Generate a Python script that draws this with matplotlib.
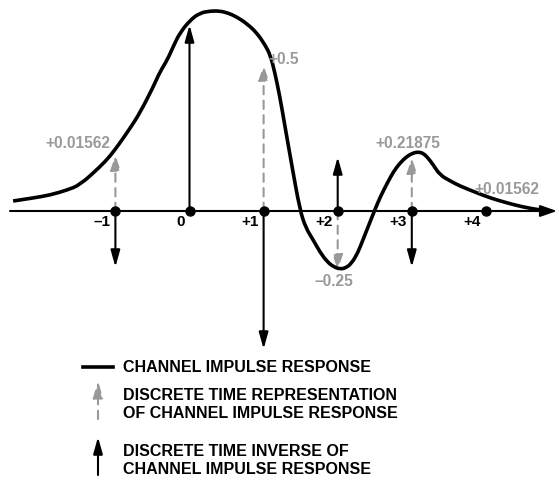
import numpy as np
import matplotlib
matplotlib.use('Agg')
import matplotlib.pyplot as plt
from matplotlib.path import Path
from matplotlib.patches import PathPatch

plt.rcParams['font.family'] = ['Liberation Sans', 'DejaVu Sans']
plt.rcParams['font.weight'] = 'bold'

# Channel impulse response (schematic), sample index vs amplitude
curve_t = [-2.38, -2.11, -1.88, -1.65, -1.48, -1.21, -1.07, -0.94, -0.80, -0.67,
           -0.49, -0.40, -0.30, -0.21, -0.13, 0.01, 0.14, 0.28, 0.41, 0.52,
           0.64, 0.78, 0.91, 1.02, 1.09, 1.15, 1.22, 1.29, 1.38, 1.49,
           1.57, 1.67, 1.76, 1.86, 1.95, 2.03, 2.11, 2.19, 2.27, 2.34,
           2.42, 2.50, 2.58, 2.67, 2.75, 2.84, 2.94, 3.02, 3.08, 3.15,
           3.22, 3.29, 3.38, 3.52, 3.65, 3.85, 4.06, 4.29, 4.50, 4.73, 4.87]
curve_y = [0.050, 0.065, 0.080, 0.105, 0.130, 0.220, 0.275, 0.340, 0.415, 0.490,
           0.620, 0.695, 0.755, 0.830, 0.890, 0.955, 0.990, 1.000, 1.000, 0.990,
           0.970, 0.935, 0.890, 0.830, 0.780, 0.695, 0.570, 0.420, 0.230, 0.005,
           -0.085, -0.145, -0.205, -0.255, -0.280, -0.290, -0.285, -0.260, -0.210, -0.145,
           -0.070, 0.005, 0.075, 0.140, 0.195, 0.240, 0.275, 0.290, 0.295, 0.290,
           0.265, 0.230, 0.180, 0.150, 0.125, 0.095, 0.065, 0.040, 0.020, 0.005, 0.0]

# Discrete time samples of the channel (drawn height, printed value)
sample_n = [-1, 1, 2, 3, 4]
sample_heights = [0.28, 0.73, -0.295, 0.265, 0.0]
sample_labels = ['+0.01562', '+0.5', '\u20130.25', '+0.21875', '+0.01562']

# Discrete time inverse taps
inverse_n = [-1, 0, 1, 2, 3]
inverse_taps = [-0.28, 0.93, -0.69, 0.27, -0.28]

# Tick marks on the time axis
tick_n = [-1, 0, 1, 2, 3, 4]
tick_labels = ['\u20131', '0', '+1', '+2', '+3', '+4']

GRAY = '#999999'
W, H = 559, 480
fig = plt.figure(figsize=(W / 100, H / 100), dpi=100)
ax = fig.add_axes([0, 0, 1, 1])
x0, sx = 189.5, 74.1
y0, sy = 211, 200
ax.set_xlim(-x0 / sx, (W - x0) / sx)
ax.set_ylim(-(H - y0) / sy, y0 / sy)
ax.axis('off')


def px(x, y):
    # pixel position (top-left origin) to figure fraction
    return x / W, 1 - y / H


def smooth_path(xs, ys):
    # quadratic bezier through midpoints, points act as control vertices
    pts = np.column_stack([xs, ys])
    verts = [pts[0]]
    codes = [Path.MOVETO]
    for i in range(1, len(pts) - 1):
        mid = (pts[i] + pts[i + 1]) / 2
        verts += [pts[i], mid]
        codes += [Path.CURVE3, Path.CURVE3]
    verts.append(pts[-1])
    codes.append(Path.LINETO)
    return Path(verts, codes)


# time axis with arrow
ax.annotate('', xy=((557 - x0) / sx, 0), xytext=((10 - x0) / sx, 0),
            arrowprops=dict(arrowstyle='-|>,head_length=1.0,head_width=0.35',
                            mutation_scale=10, lw=1.5, color='black',
                            shrinkA=0, shrinkB=0))

# continuous response
ax.add_patch(PathPatch(smooth_path(curve_t, curve_y), facecolor='none',
                       edgecolor='black', lw=2.6, capstyle='butt', zorder=3))

# inverse taps (solid black arrows)
for n, v in zip(inverse_n, inverse_taps):
    ax.annotate('', xy=(n, v), xytext=(n, 0),
                arrowprops=dict(arrowstyle='-|>,head_length=1.0,head_width=0.28',
                                mutation_scale=10, lw=1.5, color='black',
                                shrinkA=0, shrinkB=0), zorder=4)

# sampled channel (dashed gray arrows)
label_offsets = [(-5, 12, 'right'), (5, 6, 'left'), (-4, -12, 'center'),
                 (-4, 15, 'center'), (21, 21, 'center')]
for n, h, lab, (dx, dy, ha) in zip(sample_n, sample_heights, sample_labels, label_offsets):
    if h != 0:
        ax.annotate('', xy=(n, h), xytext=(n, 0),
                    arrowprops=dict(arrowstyle='-|>,head_length=0.9,head_width=0.3',
                                    mutation_scale=10, lw=1.5, color=GRAY,
                                    linestyle=(0, (4, 3)), shrinkA=0, shrinkB=0),
                    zorder=2)
    ax.annotate(lab, xy=(n, h), xytext=(dx, dy), textcoords='offset pixels',
                ha=ha, va='center', color=GRAY, fontsize=11.2, fontweight='bold')

# sample points
ax.plot(tick_n, np.zeros(len(tick_n)), 'o', color='black', ms=6.5, zorder=5)
for n, lab in zip(tick_n, tick_labels):
    ax.annotate(lab, xy=(n, 0), xytext=(-5, -11), textcoords='offset pixels',
                ha='right', va='center', color='black', fontsize=11,
                fontweight='bold')

# key
fig.add_artist(plt.Line2D([83 / W, 113 / W], [1 - 367 / H, 1 - 367 / H],
                          color='black', lw=2.6))
fig.text(*px(123, 367), 'CHANNEL IMPULSE RESPONSE', ha='left', va='center',
         fontsize=11.5, fontweight='bold')
ax.annotate('', xy=px(98, 381), xytext=px(98, 419),
            xycoords='figure fraction', textcoords='figure fraction',
            arrowprops=dict(arrowstyle='-|>,head_length=1.0,head_width=0.3',
                            mutation_scale=10, lw=1.5, color=GRAY,
                            linestyle=(0, (4, 3)), shrinkA=0, shrinkB=0))
fig.text(*px(123, 404), 'DISCRETE TIME REPRESENTATION\nOF CHANNEL IMPULSE RESPONSE',
         ha='left', va='center', fontsize=11.5, fontweight='bold', linespacing=1.25)
ax.annotate('', xy=px(98, 437), xytext=px(98, 475),
            xycoords='figure fraction', textcoords='figure fraction',
            arrowprops=dict(arrowstyle='-|>,head_length=1.0,head_width=0.28',
                            mutation_scale=10, lw=1.5, color='black',
                            shrinkA=0, shrinkB=0))
fig.text(*px(123, 461), 'DISCRETE TIME INVERSE OF\nCHANNEL IMPULSE RESPONSE',
         ha='left', va='center', fontsize=11.5, fontweight='bold', linespacing=1.25)

fig.savefig('out.png', dpi=100)
